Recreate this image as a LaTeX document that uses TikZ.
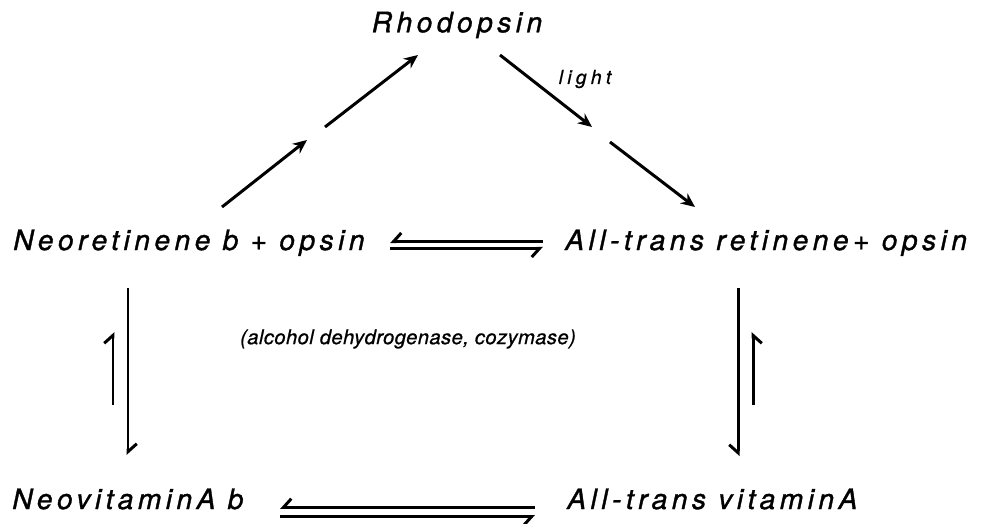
\documentclass[tikz,border=0pt]{standalone}
\usepackage{fontspec}
\setmainfont{TeX Gyre Heros}
\newfontfamily\letterfont[LetterSpace=16, FakeBold=1.2]{TeX Gyre Heros}
\newfontfamily\notefont[LetterSpace=2, FakeBold=0.8]{TeX Gyre Heros}
\newfontfamily\lightfont[LetterSpace=22, FakeBold=0.8]{TeX Gyre Heros}
\usetikzlibrary{arrows.meta, calc}
\tikzset{
  cmpd/.style   = {font=\letterfont\fontsize{16}{19}\selectfont\itshape, inner sep=0pt},
  note/.style   = {font=\notefont\fontsize{11.5}{14}\selectfont\itshape, inner sep=0pt},
  cond/.style   = {font=\lightfont\fontsize{11}{13}\selectfont\itshape, inner sep=0pt},
  rxn/.style    = {-{Stealth[length=8pt, width=7pt]}, line width=1.7pt},
  harp/.style   = {-{Straight Barb[harpoon, length=4.5pt, width=10pt]}, line width=1.7pt},
  harpsw/.style = {-{Straight Barb[harpoon, swap, length=4.5pt, width=10pt]}, line width=1.7pt},
}

\begin{document}
\begin{tikzpicture}
  \useasboundingbox (0,0) rectangle (19.8,-10.48);
  % compounds
  \node[cmpd] (rho) at (9.14,-0.5) {Rhodopsin};
  \node[cmpd, anchor=base west] (neoret) at (0.26,-5.0) {Neoretinene b + opsin};
  \node[cmpd, anchor=base west] (transret) at (11.3,-5.0) {All-trans retinene+ opsin};
  \node[cmpd, anchor=base west] (neovit) at (0.24,-10.18) {NeovitaminA b};
  \node[cmpd, anchor=base west] (transvit) at (11.34,-10.18) {All-trans vitaminA};
  % conditions
  \node[cond] (light) at (11.7,-1.58) {light};
  \node[note] (enz) at (8.16,-6.78) {(alcohol dehydrogenase, cozymase)};
  % ends of the broken arrows
  \coordinate (l1) at (4.44,-4.14);
  \coordinate (l2) at (6.14,-2.80);
  \coordinate (l3) at (6.50,-2.54);
  \coordinate (l4) at (8.36,-1.10);
  \coordinate (r1) at (10.0,-1.10);
  \coordinate (r2) at (11.84,-2.54);
  \coordinate (r3) at (12.2,-2.84);
  \coordinate (r4) at (13.9,-4.14);
  \draw[rxn] (l1) -- (l2);
  \draw[rxn] (l3) -- (l4);
  \draw[rxn] (r1) -- (r2);
  \draw[rxn] (r3) -- (r4);
  % horizontal equilibria
  \coordinate (e1) at (7.8,-4.9);
  \coordinate (e2) at (10.86,-4.9);
  \coordinate (f1) at (5.6,-10.24);
  \coordinate (f2) at (10.7,-10.24);
  \draw[harpsw] ([yshift=0.065cm]e2) -- ([yshift=0.065cm]e1);
  \draw[harpsw] ([yshift=-0.065cm]e1) -- ([yshift=-0.065cm]e2);
  \draw[harpsw] ([yshift=0.09cm]f2) -- ([yshift=0.09cm]f1);
  \draw[harpsw] ([yshift=-0.09cm]f1) -- ([yshift=-0.09cm]f2);
  % vertical equilibria
  \coordinate (a1) at (2.56,-5.76);
  \coordinate (a2) at (2.56,-9.1);
  \coordinate (a3) at (2.26,-8.1);
  \coordinate (a4) at (2.26,-6.64);
  \coordinate (b1) at (14.76,-5.76);
  \coordinate (b2) at (14.76,-9.12);
  \coordinate (b3) at (15.06,-8.1);
  \coordinate (b4) at (15.06,-6.64);
  \draw[harp] (a1) -- (a2);
  \draw[harp] (a3) -- (a4);
  \draw[harpsw] (b1) -- (b2);
  \draw[harpsw] (b3) -- (b4);
\end{tikzpicture}
\end{document}
